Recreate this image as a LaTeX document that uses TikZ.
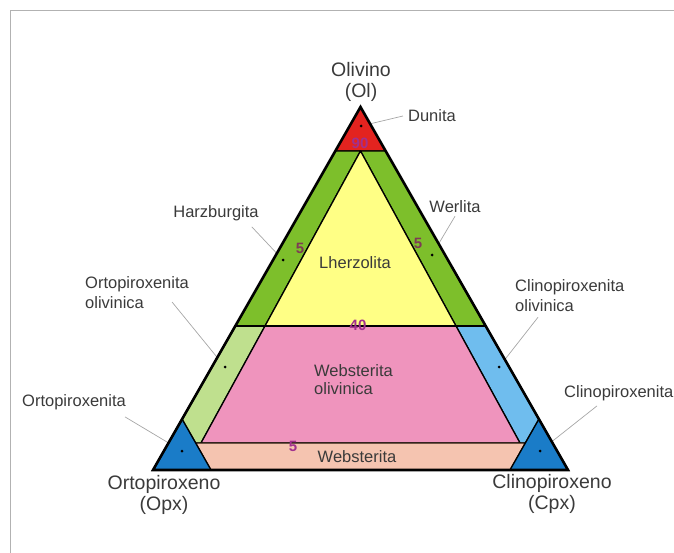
\documentclass[tikz,border=0pt]{standalone}
\usepackage{fontspec}
\setmainfont{Liberation Sans}
\usepackage{tikz}
\usetikzlibrary{calc}
\definecolor{dunred}{HTML}{E3231F}
\definecolor{olgreen}{HTML}{7DBF2B}
\definecolor{lheryellow}{HTML}{FFFF85}
\definecolor{webpink}{HTML}{EF94BD}
\definecolor{opxgreen}{HTML}{BFE08E}
\definecolor{cpxblue}{HTML}{6FBDEE}
\definecolor{pxblue}{HTML}{1A7CC8}
\definecolor{webpeach}{HTML}{F5C4B0}
\definecolor{numpurple}{HTML}{A1308E}
\definecolor{nummaroon}{HTML}{7E3B55}
\definecolor{txtgray}{HTML}{3A3A3A}
\tikzset{
  region/.style={draw=black, line width=1.3pt, line join=round},
  lbl/.style={text=txtgray, inner sep=1pt, font=\fontsize{16.5}{20}\selectfont},
  vlbl/.style={text=txtgray, inner sep=1pt, align=center, font=\fontsize{19.5}{21}\selectfont},
  leader/.style={draw=gray!70, line width=0.7pt},
  tip/.style={fill=black, circle, inner sep=0pt, minimum size=3pt},
  pct/.style={font=\bfseries\fontsize{15}{17}\selectfont, inner sep=0pt}
}

\begin{document}
\begin{tikzpicture}[x=1pt, y=-1pt]
  \useasboundingbox (0,0) rectangle (674,553);
  % frame
  \draw[gray!60, line width=1pt] (674,10.5) -- (10.5,10.5) -- (10.5,553);

  % corners of the triangle and band points
  \coordinate (A) at (360.5,107);
  \coordinate (L) at (153,470);
  \coordinate (R) at (568,470);
  \coordinate (dl) at (335.3,151);
  \coordinate (dr) at (385.7,151);
  \coordinate (top) at (360.5,151);
  \coordinate (ml) at (235.3,326);
  \coordinate (mr) at (485.7,326);
  \coordinate (il) at (265,326);
  \coordinate (ir) at (456,326);
  \coordinate (pl) at (201,443);
  \coordinate (pr) at (520,443);
  \coordinate (bl) at (195.7,443);
  \coordinate (br) at (525.3,443);
  \coordinate (ltop) at (182,419);
  \coordinate (rtop) at (539,419);
  \coordinate (lbot) at (211,470);
  \coordinate (rbot) at (510,470);

  % labels
  \node[vlbl] (ol) at (361,82) {Olivino\\(Ol)};
  \node[vlbl] (opx) at (164,495) {Ortopiroxeno\\(Opx)};
  \node[vlbl] (cpx) at (552,494) {Clinopiroxeno\\(Cpx)};
  \node[lbl] (dun) at (432,116) {Dunita};
  \node[lbl] (harz) at (216,213) {Harzburgita};
  \node[lbl] (wer) at (455,207) {Werlita};
  \node[lbl, anchor=west, align=left] (opxol) at (84,293) {Ortopiroxenita\\olivinica};
  \node[lbl, anchor=west, align=left] (cpxol) at (514,296) {Clinopiroxenita\\olivinica};
  \node[lbl] (opxt) at (74,402) {Ortopiroxenita};
  \node[lbl, anchor=west] (cpxt) at (563,393) {Clinopiroxenita};

  % leader ends
  \coordinate (dunpt) at (361,126);
  \coordinate (harzpt) at (283,260);
  \coordinate (werpt) at (432,255);
  \coordinate (opxolpt) at (225,367);
  \coordinate (cpxolpt) at (499,367);
  \coordinate (opxtpt) at (182,451);
  \coordinate (cpxtpt) at (540,451);

  % leaders (under the fills)
  \draw[leader] ([xshift=-4pt]dun.west) -- (dunpt);
  \draw[leader] ([xshift=-8pt,yshift=-5pt]harz.south east) -- (harzpt);
  \draw[leader] ([yshift=-2pt]wer.south) -- (werpt);
  \draw[leader] ([xshift=-18pt,yshift=-9pt]opxol.east) -- (opxolpt);
  \draw[leader] ([xshift=24pt,yshift=-4pt]cpxol.south west) -- (cpxolpt);
  \draw[leader] ([xshift=-2pt,yshift=-6pt]opxt.south east) -- (opxtpt);
  \draw[leader] ([xshift=34pt,yshift=-4pt]cpxt.south west) -- (cpxtpt);

  % fields
  \filldraw[region, fill=dunred] (A) -- (dr) -- (dl) -- cycle;
  \filldraw[region, fill=olgreen] (dl) -- (top) -- (il) -- (ml) -- cycle;
  \filldraw[region, fill=olgreen] (dr) -- (top) -- (ir) -- (mr) -- cycle;
  \filldraw[region, fill=lheryellow] (top) -- (ir) -- (il) -- cycle;
  \filldraw[region, fill=opxgreen] (ml) -- (il) -- (pl) -- (bl) -- (ltop) -- cycle;
  \filldraw[region, fill=cpxblue] (mr) -- (ir) -- (pr) -- (br) -- (rtop) -- cycle;
  \filldraw[region, fill=webpink] (il) -- (ir) -- (pr) -- (pl) -- cycle;
  \filldraw[region, draw=black!80!brown, fill=webpeach] (bl) -- (br) -- (rbot) -- (lbot) -- cycle;
  \filldraw[region, fill=pxblue] (L) -- (ltop) -- (lbot) -- cycle;
  \filldraw[region, fill=pxblue] (R) -- (rtop) -- (rbot) -- cycle;
  \draw[line width=2pt] (ml) -- (mr);
  \draw[line width=2.6pt, line join=miter] (A) -- (L) -- (R) -- cycle;

  % leader tips
  \foreach \p in {dunpt,harzpt,werpt,opxolpt,cpxolpt,opxtpt,cpxtpt}
    \node[tip] at (\p) {};

  % field names
  \node[lbl] (lher) at (355,263) {Lherzolita};
  \node[lbl, anchor=west, align=left, font=\fontsize{16.5}{18}\selectfont] (webol) at (313,380) {Websterita\\olivinica};
  \node[lbl] (webs) at (357,457) {Websterita};

  % percentages
  \node[pct, text=numpurple] (p90) at (360,143) {90};
  \node[pct, text=nummaroon] (p5l) at (300,248) {5};
  \node[pct, text=nummaroon] (p5r) at (418,243) {5};
  \node[pct, text=numpurple] (p40) at (358,325) {40};
  \node[pct, text=numpurple] (p5b) at (293,446) {5};
\end{tikzpicture}
\end{document}
